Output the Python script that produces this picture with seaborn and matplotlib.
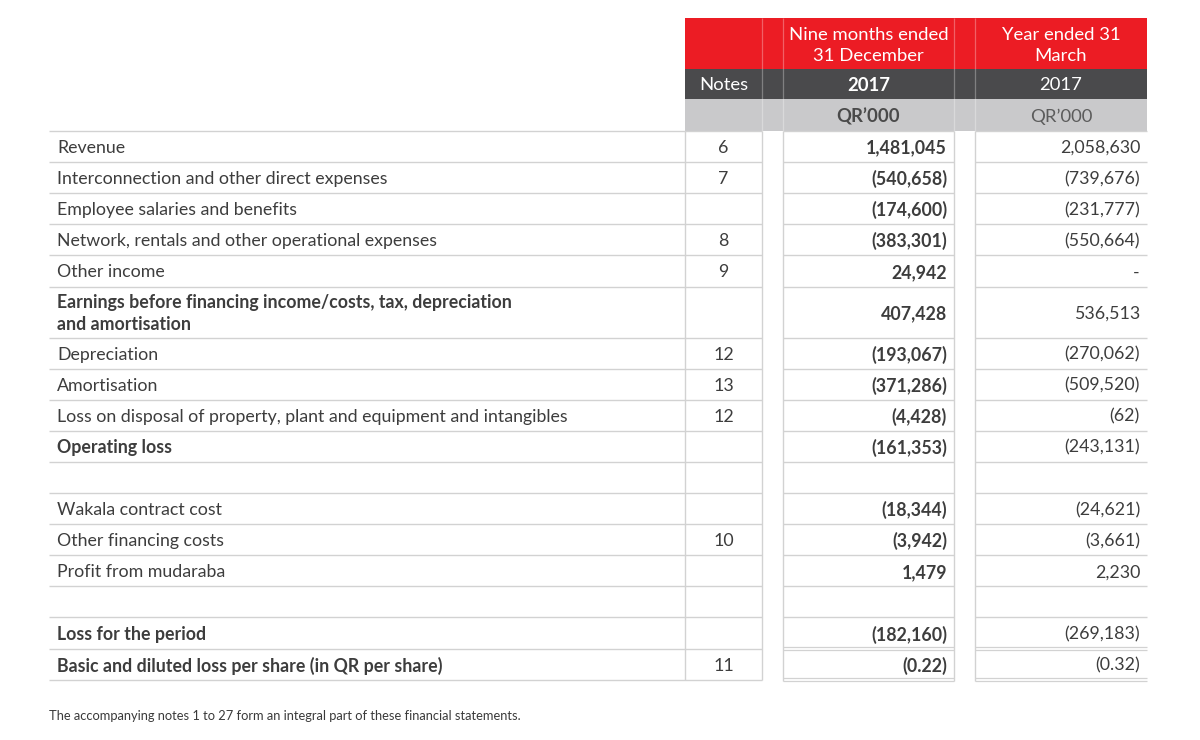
"""Consolidated statement of profit or loss, redrawn as a styled table."""
import matplotlib.pyplot as plt
from matplotlib.patches import Rectangle
import seaborn as sns

sns.set_theme(style="white")
plt.rcParams["font.family"] = ["Lato", "DejaVu Sans"]

# ── Data ─────────────────────────────────────────────────────────────────────

ROW_LABELS = [
    "Revenue",
    "Interconnection and other direct expenses",
    "Employee salaries and benefits",
    "Network, rentals and other operational expenses",
    "Other income",
    "Earnings before financing income/costs, tax, depreciation\nand amortisation",
    "Depreciation",
    "Amortisation",
    "Loss on disposal of property, plant and equipment and intangibles",
    "Operating loss",
    "",
    "Wakala contract cost",
    "Other financing costs",
    "Profit from mudaraba",
    "",
    "Loss for the period",
    "Basic and diluted loss per share (in QR per share)",
]
NOTES = ["6", "7", "", "8", "9", "", "12", "13", "12", "", "", "", "10", "",
         "", "", "11"]
NINE_MONTHS_2017 = [1481045, -540658, -174600, -383301, 24942, 407428,
                    -193067, -371286, -4428, -161353, None, -18344, -3942,
                    1479, None, -182160, -0.22]
YEAR_ENDED_2017 = [2058630, -739676, -231777, -550664, "-", 536513, -270062,
                   -509520, -62, -243131, None, -24621, -3661, 2230, None,
                   -269183, -0.32]
BOLD_LABEL_ROWS = {5, 9, 15, 16}

HEAD_PERIODS = ["Nine months ended\n31 December", "Year ended 31\nMarch"]
HEAD_YEARS = ["2017", "2017"]
HEAD_UNIT = "QR\u2019000"
FOOTNOTE = ("The accompanying notes 1 to 27 form an integral part of these "
            "financial statements.")

# ── Style / layout ───────────────────────────────────────────────────────────

RED = "#ec1c24"
DARK = "#4a4a4c"
LIGHT = "#c9c9cb"
GRID = "#d2d2d2"
TEXT = "#3d3d3d"
FS = 12.8

X_LABEL = 49
X_NOTES = (685, 762)
X_NINE = (783, 954)
X_YEAR = (975, 1147)
Y_HEAD = [18, 69, 99, 131]
ROW_H = 31.1
TALL_H = 51
DY = 1.5  # optical nudge for vertically centred text


def fmt(v):
    if v is None:
        return ""
    if isinstance(v, str):
        return v
    dec = 2 if abs(v) < 1 and v != 0 else 0
    s = f"{abs(v):,.{dec}f}"
    return f"({s})" if v < 0 else s


fig = plt.figure(figsize=(12, 7.4), dpi=100)
ax = fig.add_axes([0, 0, 1, 1])
ax.set_xlim(0, 1200)
ax.set_ylim(740, 0)
ax.axis("off")

# header bands
for (y0, y1), col in zip(zip(Y_HEAD[:-1], Y_HEAD[1:]), [RED, DARK, LIGHT]):
    ax.add_patch(Rectangle((X_NOTES[0], y0), X_YEAR[1] - X_NOTES[0], y1 - y0,
                           color=col, lw=0, zorder=1))
for x in (X_NOTES[1], X_NINE[0], X_NINE[1], X_YEAR[0]):
    ax.vlines(x, Y_HEAD[0], Y_HEAD[-1], color="white", alpha=0.3, lw=0.9,
              zorder=2)

for (x0, x1), period, year, bold in zip((X_NINE, X_YEAR), HEAD_PERIODS,
                                        HEAD_YEARS, (True, False)):
    xc = (x0 + x1) / 2
    ax.text(xc, 44 + DY, period, color="white", fontsize=13.3, ha="center",
            va="center", linespacing=1.35, zorder=3)
    ax.text(xc, 84 + DY, year, color="white", fontsize=13.3, ha="center",
            va="center", fontweight="bold" if bold else "normal", zorder=3)
    ax.text(xc, 115 + DY, HEAD_UNIT, color="#4a4a4a" if bold else "#5c5c5c",
            fontsize=13.3, ha="center", va="center",
            fontweight="bold" if bold else "normal", zorder=3)
ax.text(sum(X_NOTES) / 2, 84 + DY, "Notes", color="white", fontsize=13.3,
        ha="center", va="center", zorder=3)

# body rows
heights = [TALL_H if "\n" in lab else ROW_H for lab in ROW_LABELS]
bounds = [Y_HEAD[-1]]
for h in heights:
    bounds.append(bounds[-1] + h)

n = len(ROW_LABELS)
for i, y in enumerate(bounds):
    ax.hlines(y, X_LABEL, X_NOTES[1], color=GRID, lw=1.0, zorder=2)
    double = i in (n - 1, n)
    for x0, x1 in (X_NINE, X_YEAR):
        if double:
            ax.hlines([y - 1.3, y + 1.3], x0, x1, color=GRID, lw=0.9, zorder=2)
        else:
            ax.hlines(y, x0, x1, color=GRID, lw=1.0, zorder=2)

for x in (X_NOTES[0], X_NOTES[1]):
    ax.vlines(x, bounds[0], bounds[-1], color=GRID, lw=1.0, zorder=2)
for x in (X_NINE[0], X_NINE[1], X_YEAR[0]):
    ax.vlines(x, bounds[0], bounds[-1] + 1.3, color=GRID, lw=1.0, zorder=2)

for i, (lab, note, v9, v12) in enumerate(zip(ROW_LABELS, NOTES,
                                             NINE_MONTHS_2017,
                                             YEAR_ENDED_2017)):
    yc = (bounds[i] + bounds[i + 1]) / 2 + DY
    ax.text(57, yc, lab, color=TEXT, fontsize=FS, ha="left", va="center",
            linespacing=1.3,
            fontweight="bold" if i in BOLD_LABEL_ROWS else "normal")
    ax.text(sum(X_NOTES) / 2, yc, note, color=TEXT, fontsize=FS,
            ha="center", va="center")
    ax.text(X_NINE[1] - 7, yc, fmt(v9), color=TEXT, fontsize=FS,
            ha="right", va="center", fontweight="bold")
    ax.text(X_YEAR[1] - 7, yc, fmt(v12), color=TEXT, fontsize=FS,
            ha="right", va="center")

ax.text(X_LABEL, 714 + DY, FOOTNOTE, color="#3a3a3a", fontsize=9.3,
        ha="left", va="center")

fig.savefig("out.png", dpi=100)
